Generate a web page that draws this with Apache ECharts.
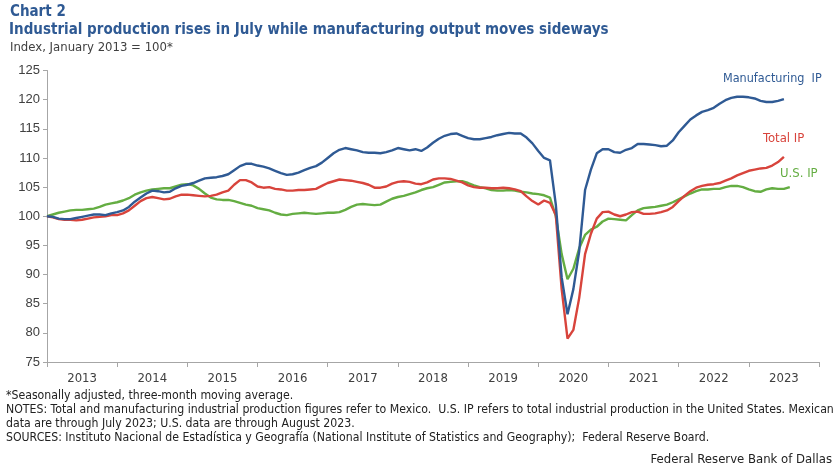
<!DOCTYPE html>
<html>
<head>
<meta charset="utf-8">
<script src="https://cdn.jsdelivr.net/npm/echarts@6/dist/echarts.min.js"></script>
<style>
  html, body { margin: 0; padding: 0; background: #fff; }
  #chart { width: 840px; height: 470px; }
</style>
</head>
<body>
<div id="chart"></div>
<script>
// Year labels along the bottom axis
const years = ['2013','2014','2015','2016','2017','2018','2019','2020','2021','2022','2023'];
const yTicks = [75, 80, 85, 90, 95, 100, 105, 110, 115, 120, 125];

// Monthly index values, January 2013 = 100 (three-month moving averages)
const manufacturingIP = [
  100.0, 99.9, 99.6, 99.5, 99.5, 99.7, 99.9, 100.1, 100.3, 100.3, 100.2, 100.5,
  100.7, 101.0, 101.6, 102.5, 103.2, 103.9, 104.4, 104.3, 104.1, 104.2, 104.8, 105.2,
  105.4, 105.7, 106.1, 106.5, 106.6, 106.7, 106.9, 107.2, 107.9, 108.6, 109.0, 109.0,
  108.7, 108.5, 108.2, 107.8, 107.4, 107.1, 107.2, 107.5, 107.9, 108.3, 108.6, 109.2,
  110.0, 110.8, 111.4, 111.7, 111.5, 111.3, 111.0, 110.9, 110.9, 110.8, 111.0, 111.3,
  111.7, 111.5, 111.3, 111.5, 111.2, 111.8, 112.6, 113.3, 113.8, 114.1, 114.2, 113.8,
  113.4, 113.2, 113.2, 113.4, 113.6, 113.9, 114.1, 114.3, 114.2, 114.2, 113.5, 112.5,
  111.2, 110.0, 109.6, 102.0, 89.5, 83.2, 87.5, 94.0, 104.5, 108.0, 110.8, 111.5,
  111.5, 111.0, 110.9, 111.4, 111.7, 112.4, 112.4, 112.3, 112.2, 112.0, 112.1, 113.0,
  114.4, 115.5, 116.6, 117.3, 117.9, 118.2, 118.6, 119.3, 119.9, 120.3, 120.5, 120.5,
  120.4, 120.2, 119.8, 119.6, 119.6, 119.8, 120.1
];
const totalIP = [
  100.0, 99.8, 99.5, 99.4, 99.4, 99.3, 99.4, 99.6, 99.8, 99.9, 100.0, 100.2,
  100.2, 100.5, 101.0, 101.8, 102.6, 103.1, 103.3, 103.1, 102.9, 103.0, 103.4, 103.7,
  103.7, 103.6, 103.5, 103.4, 103.5, 103.7, 104.1, 104.4, 105.4, 106.2, 106.2, 105.8,
  105.1, 104.9, 105.0, 104.7, 104.6, 104.4, 104.4, 104.5, 104.5, 104.6, 104.7, 105.2,
  105.7, 106.0, 106.3, 106.2, 106.1, 105.9, 105.7, 105.4, 104.9, 104.9, 105.1, 105.6,
  105.9, 106.0, 105.9, 105.6, 105.5, 105.8, 106.3, 106.5, 106.5, 106.4, 106.1, 105.8,
  105.3, 105.0, 104.9, 104.9, 104.8, 104.8, 104.9, 104.8, 104.6, 104.3, 103.4, 102.6,
  102.0, 102.7, 102.3, 100.2, 87.5, 79.0, 80.5, 86.0, 93.5, 97.0, 99.6, 100.7,
  100.8, 100.3, 100.0, 100.3, 100.7, 100.8, 100.4, 100.4, 100.5, 100.7, 101.0, 101.6,
  102.6, 103.5, 104.3, 104.9, 105.2, 105.4, 105.5, 105.7, 106.1, 106.5, 107.0, 107.4,
  107.8, 108.0, 108.2, 108.3, 108.7, 109.3, 110.2
];
const usIP = [
  100.0, 100.3, 100.6, 100.8, 101.0, 101.1, 101.1, 101.2, 101.3, 101.6, 102.0, 102.2,
  102.4, 102.7, 103.1, 103.7, 104.1, 104.4, 104.6, 104.7, 104.8, 104.8, 105.1, 105.4,
  105.5, 105.3, 104.7, 103.9, 103.2, 102.9, 102.8, 102.8, 102.6, 102.3, 102.0, 101.8,
  101.4, 101.2, 101.0, 100.6, 100.3, 100.2, 100.4, 100.5, 100.6, 100.5, 100.4, 100.5,
  100.6, 100.6, 100.7, 101.1, 101.6, 102.0, 102.1, 102.0, 101.9, 102.0, 102.5, 103.0,
  103.3, 103.5, 103.8, 104.1, 104.5, 104.8, 105.0, 105.4, 105.8, 105.9, 106.0, 106.0,
  105.7, 105.3, 105.0, 104.8, 104.5, 104.4, 104.4, 104.5, 104.4, 104.2, 104.1, 103.9,
  103.8, 103.6, 103.2, 100.0, 93.5, 89.2, 91.0, 94.5, 96.8, 97.7, 98.2, 99.1,
  99.6, 99.5, 99.4, 99.3, 100.2, 101.0, 101.4, 101.5, 101.6, 101.8, 102.0, 102.4,
  102.9, 103.4, 103.9, 104.3, 104.6, 104.6, 104.7, 104.7, 105.0, 105.2, 105.2, 105.0,
  104.6, 104.3, 104.2, 104.6, 104.8, 104.7, 104.7, 105.0
];

// Pair each monthly value with its month offset from January 2013
const toPoints = arr => arr.map((v, i) => [i, v]);

const blue = '#2f5a94';
const red = '#d8443c';
const green = '#64ad42';
const axisGray = '#a6a6a6';
const textGray = '#404040';
const narrow = "'Liberation Sans Narrow', 'DejaVu Sans Condensed', 'Liberation Sans', sans-serif";

const chart = echarts.init(document.getElementById('chart'), null, { renderer: 'canvas' });

chart.setOption({
  animation: false,
  backgroundColor: '#ffffff',
  grid: { left: 47, right: 21, top: 70.5, bottom: 108 },
  xAxis: [
    {
      type: 'value', min: 0, max: 132, interval: 12,
      axisLine: { show: true, lineStyle: { color: axisGray, width: 1 } },
      axisTick: { show: true, length: 5, lineStyle: { color: axisGray } },
      axisLabel: { show: false },
      splitLine: { show: false }
    },
    {
      type: 'category', data: years, position: 'bottom', boundaryGap: true,
      axisLine: { show: false },
      axisTick: { show: false },
      axisLabel: { color: textGray, fontSize: 13, fontFamily: narrow, margin: 10 },
      splitLine: { show: false }
    }
  ],
  yAxis: {
    type: 'value', min: yTicks[0], max: yTicks[yTicks.length - 1], interval: 5,
    axisLine: { show: true, lineStyle: { color: axisGray, width: 1 } },
    axisTick: { show: true, length: 4, lineStyle: { color: axisGray } },
    axisLabel: { color: textGray, fontSize: 13, fontFamily: 'Liberation Sans, Arial, sans-serif', margin: 7 },
    splitLine: { show: false }
  },
  series: [
    {
      name: 'U.S. IP', type: 'line', xAxisIndex: 0, data: toPoints(usIP),
      showSymbol: false, lineStyle: { color: green, width: 2.4 }, z: 2
    },
    {
      name: 'Total IP', type: 'line', xAxisIndex: 0, data: toPoints(totalIP),
      showSymbol: false, lineStyle: { color: red, width: 2.4 }, z: 3
    },
    {
      name: 'Manufacturing IP', type: 'line', xAxisIndex: 0, data: toPoints(manufacturingIP),
      showSymbol: false, lineStyle: { color: blue, width: 2.4 }, z: 4
    }
  ],
  graphic: [
    { type: 'text', left: 10, top: 5, style: { text: 'Chart 2', fill: blue, font: "bold 15px " + narrow } },
    { type: 'text', left: 9, top: 23, style: { text: 'Industrial production rises in July while manufacturing output moves sideways', fill: blue, font: "bold 15px " + narrow } },
    { type: 'text', left: 10, top: 41, style: { text: 'Index, January 2013 = 100*', fill: textGray, font: "13px " + narrow } },

    { type: 'text', left: 723, top: 72, style: { text: 'Manufacturing  IP', fill: blue, font: "12.5px " + narrow } },
    { type: 'text', left: 763, top: 132, style: { text: 'Total IP', fill: red, font: "13px " + narrow } },
    { type: 'text', left: 780, top: 167, style: { text: 'U.S. IP', fill: green, font: "13px " + narrow } },

    { type: 'text', left: 6, top: 390, style: { text: '*Seasonally adjusted, three-month moving average.', fill: '#222', font: "12.2px " + narrow } },
    { type: 'text', left: 6, top: 404, style: { text: 'NOTES: Total and manufacturing industrial production figures refer to Mexico.  U.S. IP refers to total industrial production in the United States. Mexican', fill: '#222', font: "12.2px " + narrow } },
    { type: 'text', left: 6, top: 418, style: { text: 'data are through July 2023; U.S. data are through August 2023.', fill: '#222', font: "12.2px " + narrow } },
    { type: 'text', left: 6, top: 432, style: { text: 'SOURCES: Instituto Nacional de Estadística y Geografía (National Institute of Statistics and Geography);  Federal Reserve Board.', fill: '#222', font: "12.2px " + narrow } },
    { type: 'text', right: 8, top: 453, style: { text: 'Federal Reserve Bank of Dallas', fill: '#222', font: "13px " + narrow } }
  ]
});
</script>
</body>
</html>
